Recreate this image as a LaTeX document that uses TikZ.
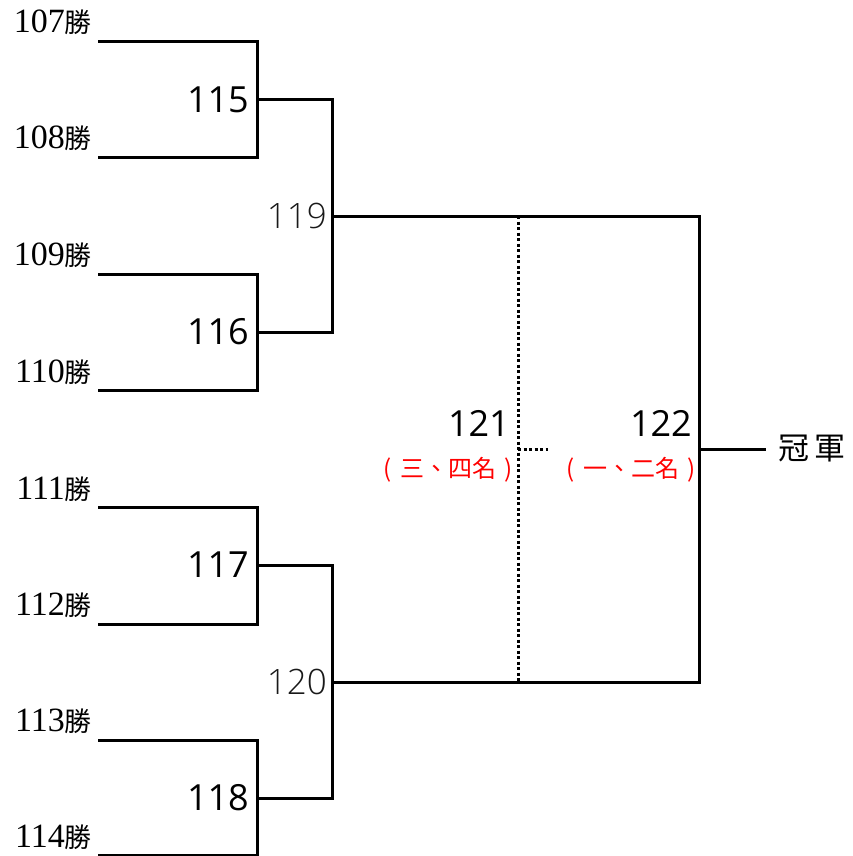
\documentclass[tikz,border=0pt]{standalone}
\usepackage{fontspec}
\setmainfont{Liberation Serif}
\newfontfamily\cjk{Noto Sans CJK TC}
\newfontfamily\segoe{Open Sans}
\IfFontExistsTF{Open Sans Light}{\newfontfamily\segoelight{Open Sans Light}}{\newfontfamily\segoelight{Open Sans}}
\usepackage{tikz}
\usetikzlibrary{positioning, calc}
\tikzstyle{win} = [anchor = east, inner sep = 0pt, font = \fontsize{34}{34}\selectfont]
\tikzstyle{game} = [anchor = east, inner sep = 0pt, font = \segoe\fontsize{36}{36}\selectfont]
\tikzstyle{semi} = [anchor = east, inner sep = 0pt, text = black!90, font = \segoelight\fontsize{35}{35}\selectfont]
\tikzstyle{rank} = [anchor = east, inner sep = 0pt, text = red, font = \cjk\fontsize{24}{24}\selectfont]
\tikzstyle{bracket} = [line width = 3pt]
\tikzstyle{dots} = [line width = 3pt, dash pattern = on 3pt off 2.5pt]
\newcommand{\wins}[1]{#1{\cjk\fontsize{27}{27}\selectfont 勝}}
\newcommand{\place}[1]{(\hspace{.35em}#1\hspace{.35em})}

\begin{document}
\begin{tikzpicture}[x=1pt, y=-1pt]
\useasboundingbox (0,0) rectangle (853,856);

% Left ends of the first round
\coordinate (w107) at (98,42);
\coordinate (w108) at (98,157);
\coordinate (w109) at (98,274);
\coordinate (w110) at (98,390);
\coordinate (w111) at (98,507);
\coordinate (w112) at (98,624);
\coordinate (w113) at (98,740);
\coordinate (w114) at (98,855);

% Joints of the bracket
\coordinate (j115) at (257,100);
\coordinate (j116) at (257,332);
\coordinate (j117) at (257,565);
\coordinate (j118) at (257,798);
\coordinate (j119) at (332,216);
\coordinate (j120) at (332,682);
\coordinate (j121) at (518,449);
\coordinate (j122) at (699,449);
\coordinate (d121) at (548,449);
\coordinate (c) at (766,449);

% Winners
\node[win] (l107) at ($(w107)+(-6,-20)$) {\wins{107}};
\node[win] (l108) at ($(w108)+(-6,-19)$) {\wins{108}};
\node[win] (l109) at ($(w109)+(-6,-19)$) {\wins{109}};
\node[win] (l110) at ($(w110)+(-6,-18)$) {\wins{110}};
\node[win] (l111) at ($(w111)+(-6,-18)$) {\wins{111}};
\node[win] (l112) at ($(w112)+(-6,-19)$) {\wins{112}};
\node[win] (l113) at ($(w113)+(-6,-19)$) {\wins{113}};
\node[win] (l114) at ($(w114)+(-6,-18)$) {\wins{114}};

% The bracket
\draw[bracket] (w107) -| (j115) |- (w108);
\draw[bracket] (w109) -| (j116) |- (w110);
\draw[bracket] (w111) -| (j117) |- (w112);
\draw[bracket] (w113) -| (j118) |- (w114);
\draw[bracket] (j115) -| (j119) |- (j116);
\draw[bracket] (j117) -| (j120) |- (j118);
\draw[bracket] (j119) -| (j122) |- (j120);
\draw[bracket] (j122) -- (c);

% Match for third place
\draw[dots] (j119 -| j121) -- (j120 -| j121);
\draw[dots] (j121) -- (d121);

% Match numbers
\node[game, left = 8pt of j115] (g115) {115};
\node[game, left = 8pt of j116] (g116) {116};
\node[game, left = 8pt of j117] (g117) {117};
\node[game, left = 8pt of j118] (g118) {118};
\node[semi, left = 5pt of j119] (g119) {119};
\node[semi, left = 5pt of j120] (g120) {120};
\node[game, left = 8pt of j121, yshift = 26pt] (g121) {121};
\node[game, left = 7pt of j122, yshift = 26pt] (g122) {122};
\node[rank] (r121) at ($(j121)+(-5,21)$) {\place{三、四名}};
\node[rank] (r122) at ($(j122)+(-3,21)$) {\place{一、二名}};

% Champion
\node[right = 12pt of c, inner sep = 0pt, font = \cjk\fontsize{31}{31}\selectfont] (champ) {冠\,軍};
\end{tikzpicture}
\end{document}
